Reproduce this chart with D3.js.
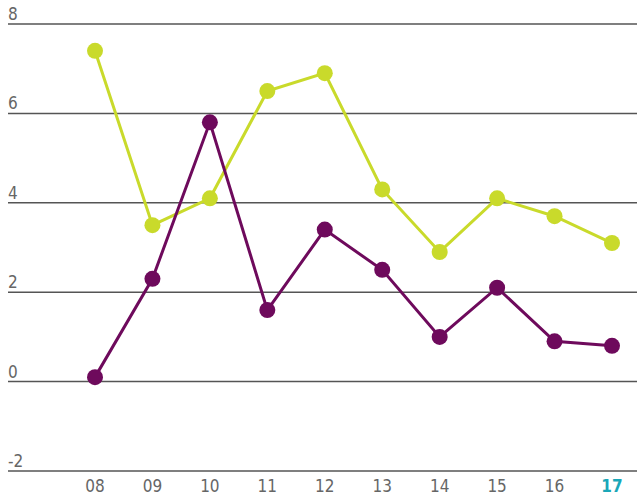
<!DOCTYPE html>
<html><head><meta charset="utf-8">
<script src="https://cdn.jsdelivr.net/npm/d3@7"></script>
<style>body{margin:0;background:#fff}svg{display:block}</style>
</head><body>
<svg id="c" width="637" height="495"></svg>
<script>
const categories = ["08","09","10","11","12","13","14","15","16","17"];
const seriesGreen = [7.4,3.5,4.1,6.5,6.9,4.3,2.9,4.1,3.7,3.1];
const seriesPurple = [0.1,2.3,5.8,1.6,3.4,2.5,1.0,2.1,0.9,0.8];
const yTicks = [-2,0,2,4,6,8];

const svg = d3.select("#c");
const x = d3.scalePoint().domain(categories).range([95,612]);
const y = d3.scaleLinear().domain([-2,8]).range([471,24]);
const font = "'DejaVu Sans Condensed','Liberation Sans Narrow',Roboto,sans-serif";

const g = svg.append("g");
yTicks.forEach(t=>{
  g.append("line").attr("x1",8).attr("x2",637).attr("y1",y(t)).attr("y2",y(t))
   .attr("stroke","#555").attr("stroke-width",1.5);
  g.append("text").attr("x",8).attr("y",y(t)-4).text(t)
   .attr("font-family",font).attr("font-size",17).attr("fill","#666");
});
categories.forEach((c,i)=>{
  const last = i===categories.length-1;
  svg.append("text").attr("x",x(c)).attr("y",492).attr("text-anchor","middle").text(c)
    .attr("font-family",font).attr("font-size",17)
    .attr("font-weight",last?"bold":"normal")
    .attr("fill",last?"#1aa7b8":"#666");
});
const line = d3.line().x((d,i)=>x(categories[i])).y(d=>y(d));
function draw(data,color){
  svg.append("path").datum(data).attr("d",line).attr("fill","none")
    .attr("stroke",color).attr("stroke-width",3);
  svg.selectAll(null).data(data).enter().append("circle")
    .attr("cx",(d,i)=>x(categories[i])).attr("cy",d=>y(d)).attr("r",8).attr("fill",color);
}
draw(seriesGreen,"#c9da2b");
draw(seriesPurple,"#6e0a5c");
</script>
</body></html>
